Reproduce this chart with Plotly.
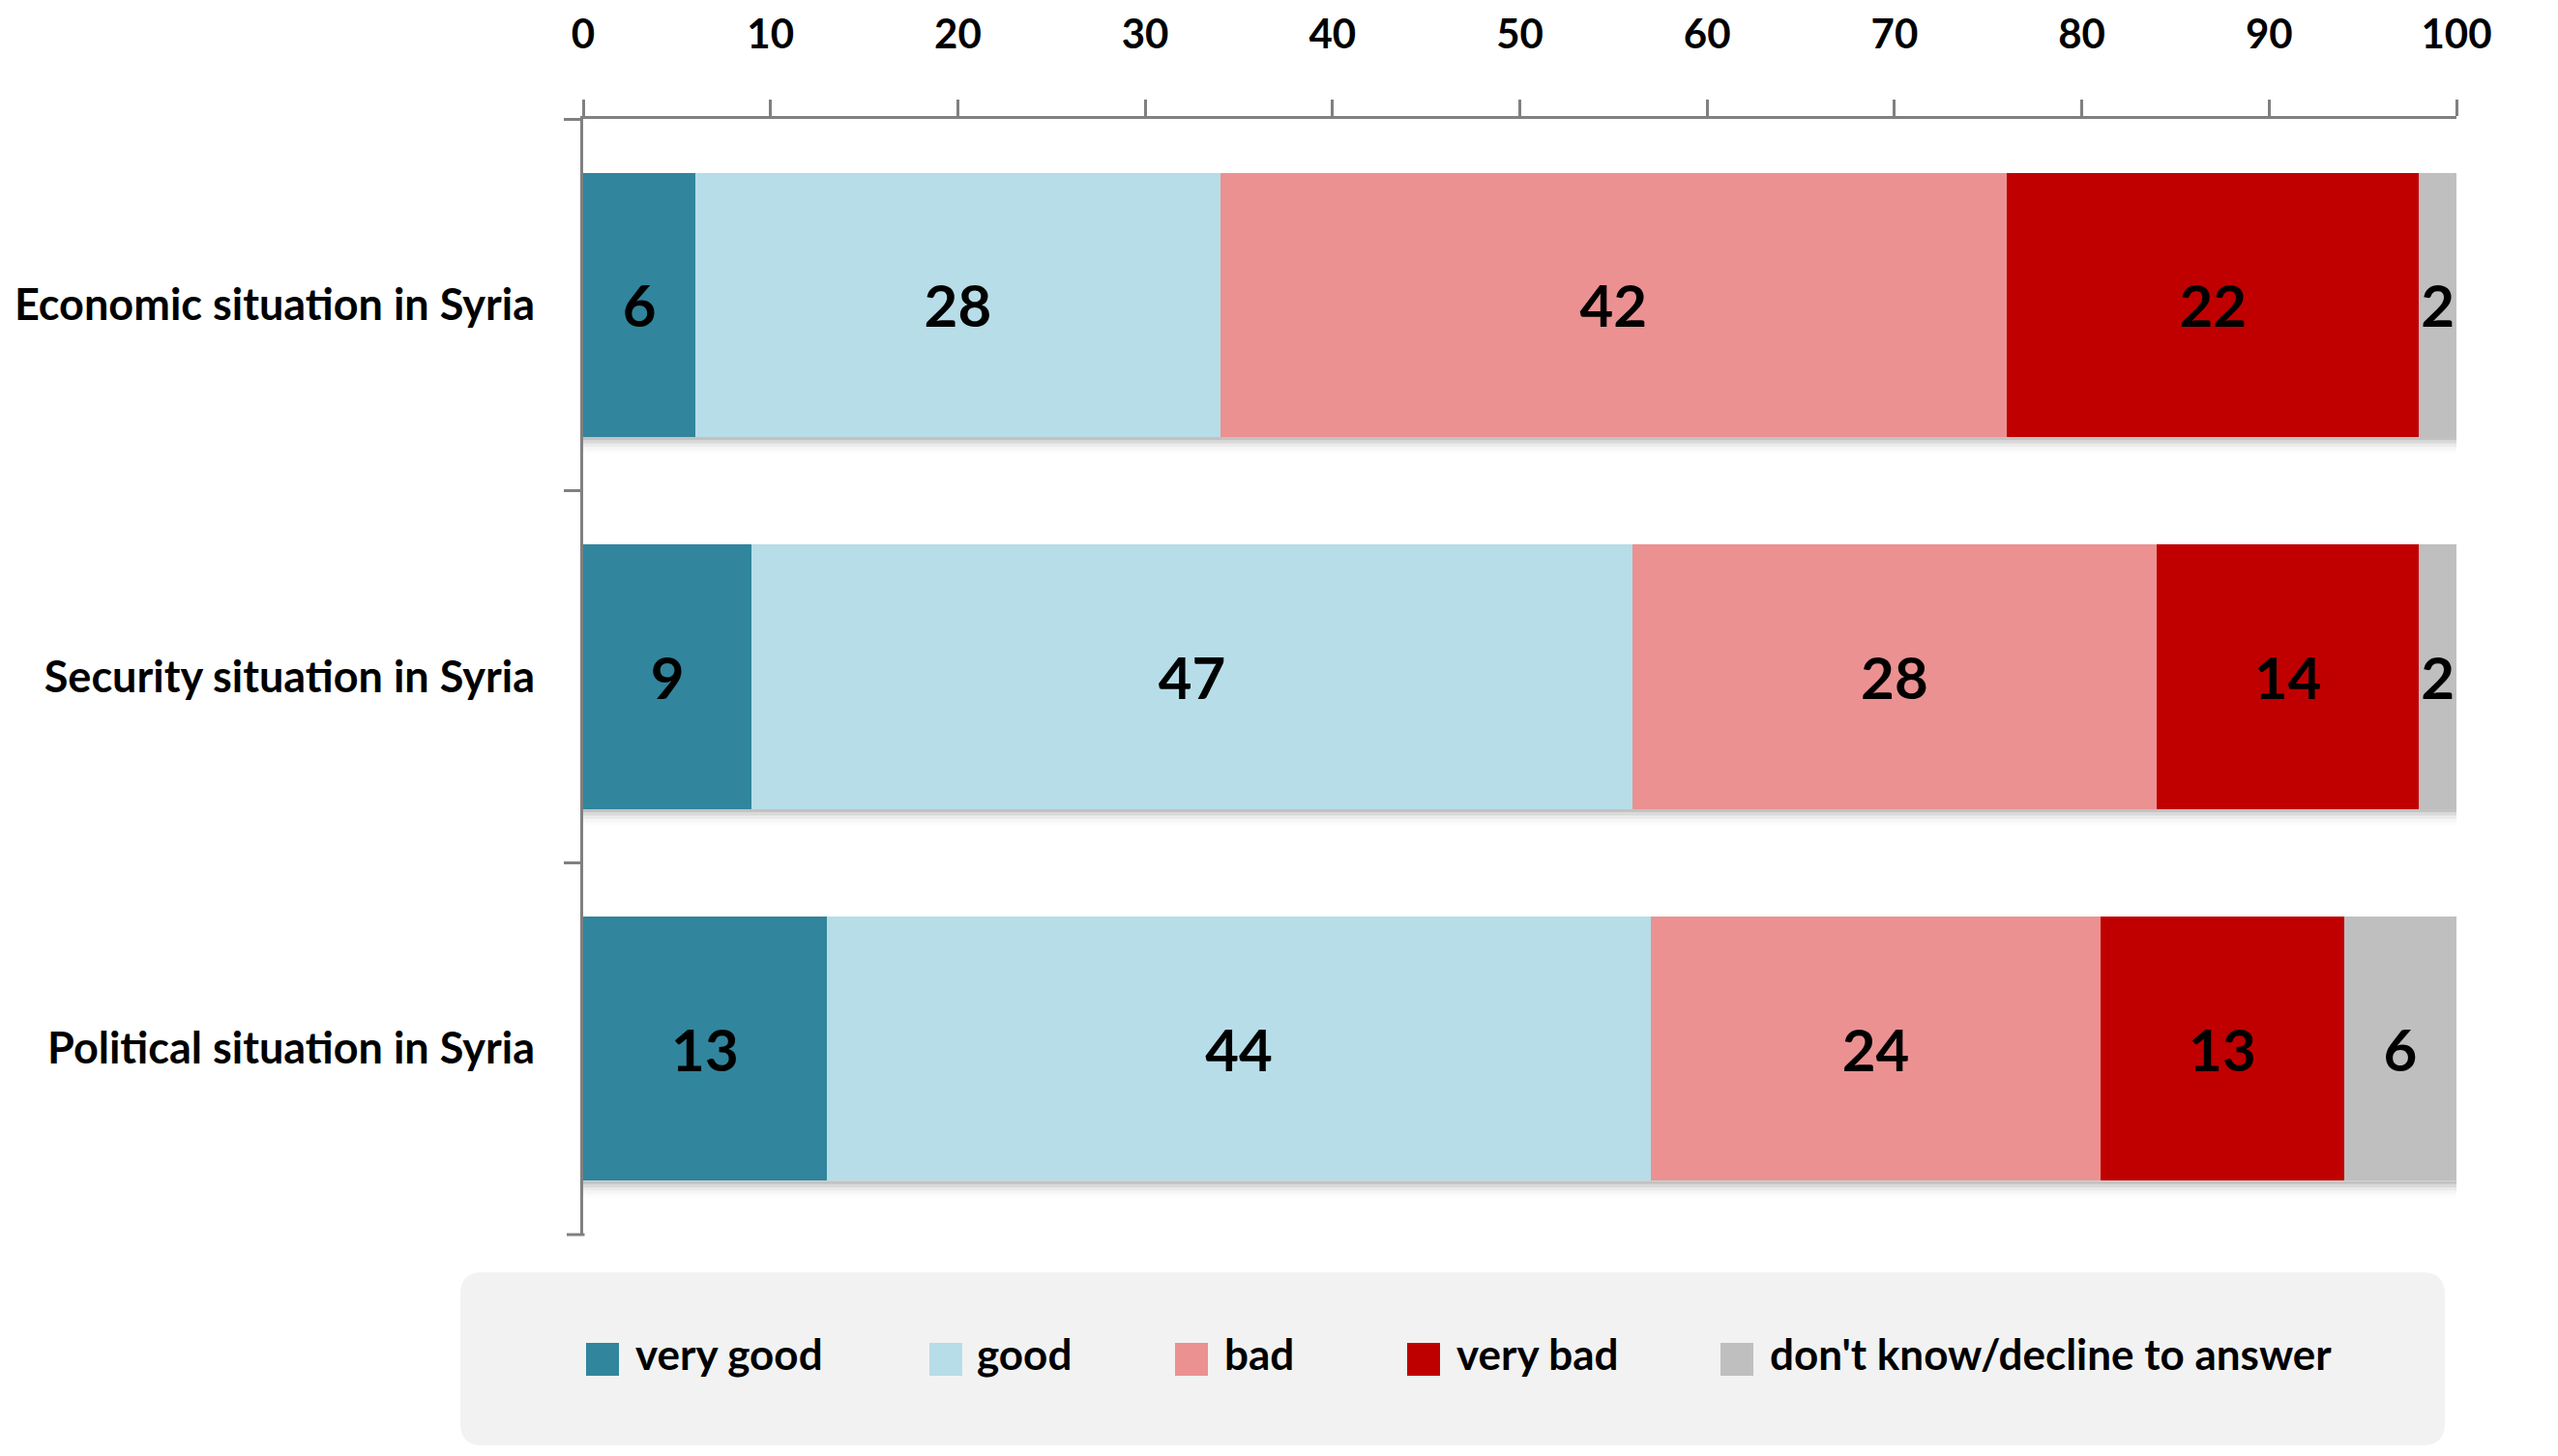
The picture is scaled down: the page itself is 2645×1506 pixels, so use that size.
import plotly.graph_objects as go

# ---------------- data ----------------
categories = ["Economic situation in Syria", "Security situation in Syria", "Political situation in Syria"]
series_names = ["very good", "good", "bad", "very bad", "don't know/decline to answer"]
very_good = [6, 9, 13]
good = [28, 47, 44]
bad = [42, 28, 24]
very_bad = [22, 14, 13]
dont_know = [2, 2, 6]
series_values = [very_good, good, bad, very_bad, dont_know]
series_colors = ["#31859c", "#b7dde8", "#eb9191", "#c00000", "#bfbfbf"]
x_ticks = [0, 10, 20, 30, 40, 50, 60, 70, 80, 90, 100]

# ---------------- layout geometry (pixels) ----------------
W, H = 2645, 1506
L, R, T, B = 595, 2532, 115, 1269
FONT = "Lato"
BARGAP = 0.29
TICKLEN = 17
AXIS_GRAY = "#808080"


def px_x(p):
    return (p - L) / (R - L)


def px_y(p):
    return (B - p) / (B - T)


fig = go.Figure()
for name, vals, col in zip(series_names, series_values, series_colors):
    fig.add_trace(go.Bar(
        name=name, y=categories, x=vals, orientation="h",
        marker=dict(color=col, line=dict(width=0)),
        text=[str(v) for v in vals], textposition="inside",
        insidetextanchor="middle", textangle=0, constraintext="none",
        textfont=dict(family=FONT, size=60, color="#000000", weight="bold"),
        showlegend=False, hoverinfo="x+name",
    ))

shapes = []
annotations = []

# soft shadow under each bar
half = (1 - BARGAP) / 2
for i in range(len(categories)):
    for k, a in enumerate([0.10, 0.07, 0.045, 0.025, 0.012]):
        shapes.append(dict(type="rect", xref="x", yref="y", x0=0, x1=100,
                           y0=i + half, y1=i + half + 0.009 * (k + 1),
                           fillcolor=f"rgba(0,0,0,{a})", line=dict(width=0), layer="below"))

# closing tick at the bottom end of the category axis
shapes.append(dict(type="line", xref="paper", yref="paper",
                   x0=px_x(L - TICKLEN), x1=px_x(L + 1.5), y0=0, y1=0,
                   line=dict(color=AXIS_GRAY, width=3)))

# rounded legend box
x0, x1 = px_x(468), px_x(2520)
yt, yb = px_y(1308), px_y(1487)
rx, ry = 23 / (R - L), 23 / (B - T)
path = (f"M {x0+rx},{yt} L {x1-rx},{yt} Q {x1},{yt} {x1},{yt-ry} "
        f"L {x1},{yb+ry} Q {x1},{yb} {x1-rx},{yb} L {x0+rx},{yb} "
        f"Q {x0},{yb} {x0},{yb+ry} L {x0},{yt-ry} Q {x0},{yt} {x0+rx},{yt} Z")
shapes.append(dict(type="path", xref="paper", yref="paper", path=path,
                   fillcolor="#f2f2f2", line=dict(width=0), layer="below"))

# legend entries
marker_left = [598, 953, 1207, 1447, 1771]
text_left = [647, 1000, 1256, 1496, 1820]
msize = 34
cy = 1398
for name, col, ml, tl in zip(series_names, series_colors, marker_left, text_left):
    shapes.append(dict(type="rect", xref="paper", yref="paper",
                       x0=px_x(ml), x1=px_x(ml + msize),
                       y0=px_y(cy + msize / 2), y1=px_y(cy - msize / 2),
                       fillcolor=col, line=dict(width=0)))
    annotations.append(dict(xref="paper", yref="paper", x=px_x(tl), y=px_y(cy - 6),
                            text=name, showarrow=False, xanchor="left", yanchor="middle",
                            font=dict(family=FONT, size=44, color="#000000", weight="bold")))

fig.update_layout(
    width=W, height=H,
    margin=dict(l=L, r=W - R, t=T, b=H - B, pad=0, autoexpand=False),
    barmode="stack", bargap=BARGAP,
    paper_bgcolor="white", plot_bgcolor="white",
    shapes=shapes, annotations=annotations,
    font=dict(family=FONT, color="#000000"),
    xaxis=dict(side="top", range=[0, 100], tickvals=x_ticks, ticktext=[str(t) for t in x_ticks],
               automargin=False,
               showgrid=False, zeroline=False, showline=True, linecolor=AXIS_GRAY, linewidth=3,
               ticks="outside", ticklen=TICKLEN, tickwidth=3, tickcolor=AXIS_GRAY,
               ticklabelstandoff=36,
               tickfont=dict(family=FONT, size=42, color="#000000", weight="bold")),
    yaxis=dict(type="category", categoryorder="array", categoryarray=categories,
               autorange="reversed", tickson="boundaries", automargin=False,
               showgrid=False, zeroline=False, showline=True, linecolor=AXIS_GRAY, linewidth=3,
               ticks="outside", ticklen=TICKLEN, tickwidth=3, tickcolor=AXIS_GRAY,
               ticklabelstandoff=38,
               tickfont=dict(family=FONT, size=45, color="#000000", weight="bold")),
)

fig.write_html("out.html")
